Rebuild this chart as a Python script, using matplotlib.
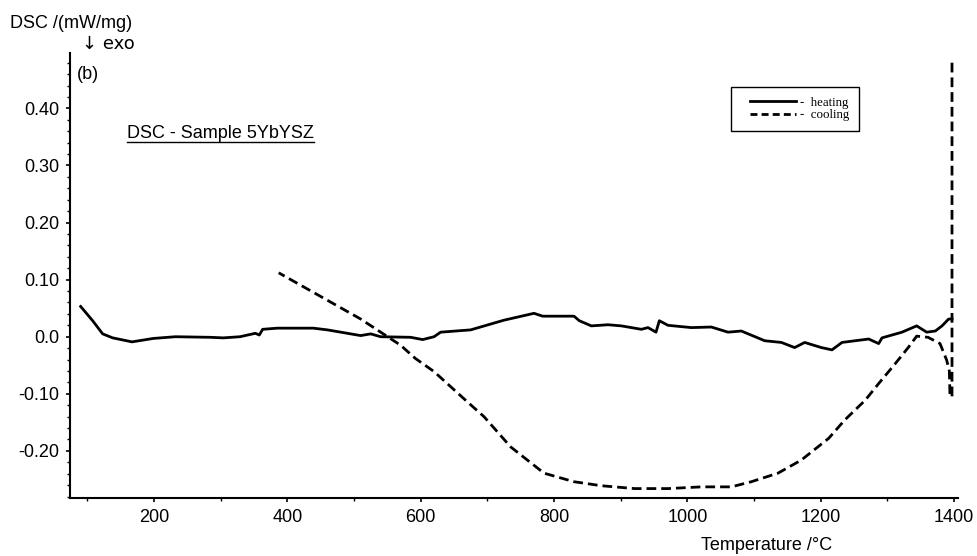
import matplotlib.pyplot as plt
from matplotlib.lines import Line2D
from matplotlib.legend_handler import HandlerLine2D
from matplotlib.ticker import MultipleLocator

# heating run, temperature in degC and DSC signal in mW/mg
heat_T = [90, 108, 123, 138, 167, 199, 232, 284, 304, 329, 352, 358, 363, 385,
          439, 460, 510, 525, 540, 585, 603, 620, 630, 675, 725, 770, 783, 830,
          838, 856, 881, 901, 931, 941, 953, 958, 971, 1006, 1036, 1061, 1081,
          1116, 1141, 1161, 1176, 1201, 1217, 1232, 1272, 1287, 1292, 1322,
          1344, 1359, 1372, 1382, 1392, 1397]
heat_V = [0.053, 0.028, 0.005, -0.002, -0.009, -0.003, 0.0, -0.001, -0.002,
          0.0, 0.006, 0.003, 0.013, 0.015, 0.015, 0.012, 0.002, 0.005, 0.0,
          -0.001, -0.005, 0.0, 0.008, 0.012, 0.029, 0.041, 0.036, 0.036, 0.028,
          0.019, 0.021, 0.019, 0.013, 0.016, 0.008, 0.028, 0.020, 0.016, 0.017,
          0.008, 0.010, -0.007, -0.010, -0.019, -0.010, -0.019, -0.023, -0.010,
          -0.004, -0.012, -0.002, 0.008, 0.019, 0.008, 0.010, 0.019, 0.031,
          0.031]

# cooling run, recorded from the top temperature downwards
cool_T = [1397, 1397, 1394, 1393, 1389, 1379, 1361, 1344, 1332, 1312, 1287,
          1267, 1236, 1212, 1171, 1136, 1096, 1066, 1031, 1021, 971, 921, 871,
          830, 785, 735, 695, 670, 620, 592, 570, 510, 387]
cool_V = [0.48, -0.105, -0.105, -0.06, -0.041, -0.012, -0.001, 0.001, -0.018,
          -0.047, -0.082, -0.111, -0.146, -0.178, -0.216, -0.239, -0.254,
          -0.263, -0.263, -0.263, -0.266, -0.266, -0.261, -0.254, -0.239,
          -0.193, -0.140, -0.114, -0.061, -0.038, -0.015, 0.031, 0.112]

xticks = [200, 400, 600, 800, 1000, 1200, 1400]
yticks = [-0.20, -0.10, 0.0, 0.10, 0.20, 0.30, 0.40]
ytick_labels = ['-0.20', '-0.10', '0.0', '0.10', '0.20', '0.30', '0.40']

plt.rcParams['font.family'] = ['Liberation Sans', 'DejaVu Sans']

fig = plt.figure(figsize=(9.78, 5.56), dpi=100)
ax = fig.add_axes([70/978, 58/556, 888/978, 445/556])

dash = (3.5, 1.8)
ax.plot(heat_T, heat_V, color='black', lw=2.0)
ax.plot(cool_T, cool_V, color='black', lw=2.0, dashes=dash)

ax.set_xlim(74, 1406)
ax.set_ylim(-0.2825, 0.497)
ax.set_xticks(xticks)
ax.set_yticks(yticks)
ax.set_yticklabels(ytick_labels)
ax.xaxis.set_minor_locator(MultipleLocator(100))
ax.yaxis.set_minor_locator(MultipleLocator(0.02))
ax.tick_params(which='major', length=3, width=1.2, labelsize=13, pad=5)
ax.tick_params(which='minor', length=2, width=1.0)

for s in ['top', 'right']:
    ax.spines[s].set_visible(False)
for s in ['left', 'bottom']:
    ax.spines[s].set_linewidth(1.5)

# axis captions sit at the corners
fig.text(10/978, 1 - 23/556, 'DSC /(mW/mg)', fontsize=13, va='center', ha='left')
fig.text(82/978, 1 - 44/556, '\u2193 exo', fontsize=13, va='center', ha='left',
         family=['DejaVu Sans'])
fig.text(767/978, 1 - 545/556, 'Temperature /\u00b0C', fontsize=13,
         va='center', ha='center')

fig.text(77/978, 1 - 74/556, '(b)', fontsize=13, va='center', ha='left')
fig.text(127/978, 1 - 133/556, 'DSC - Sample 5YbYSZ', fontsize=13,
         va='center', ha='left')
# underline for the sample caption
fig.add_artist(Line2D([127/978, 314/978], [1 - 142/556, 1 - 142/556],
                      transform=fig.transFigure, color='black', lw=1.0))

handles = [Line2D([], [], color='black', lw=2.0),
           Line2D([], [], color='black', lw=2.0, dashes=(2.5, 1.5))]
leg = ax.legend(handles, ['-  heating', '-  cooling'],
                loc='upper left', bbox_to_anchor=(731/978, 1 - 87/556),
                bbox_transform=fig.transFigure, borderaxespad=0,
                fancybox=False, framealpha=1, edgecolor='black',
                prop={'family': 'Liberation Serif', 'size': 9.3},
                handlelength=4.3, handletextpad=0.3, labelspacing=0.05,
                borderpad=0.75,
                handler_map={Line2D: HandlerLine2D(xpad=0.7)})
leg.get_frame().set_linewidth(1.0)

plt.savefig('out.png', dpi=100)
